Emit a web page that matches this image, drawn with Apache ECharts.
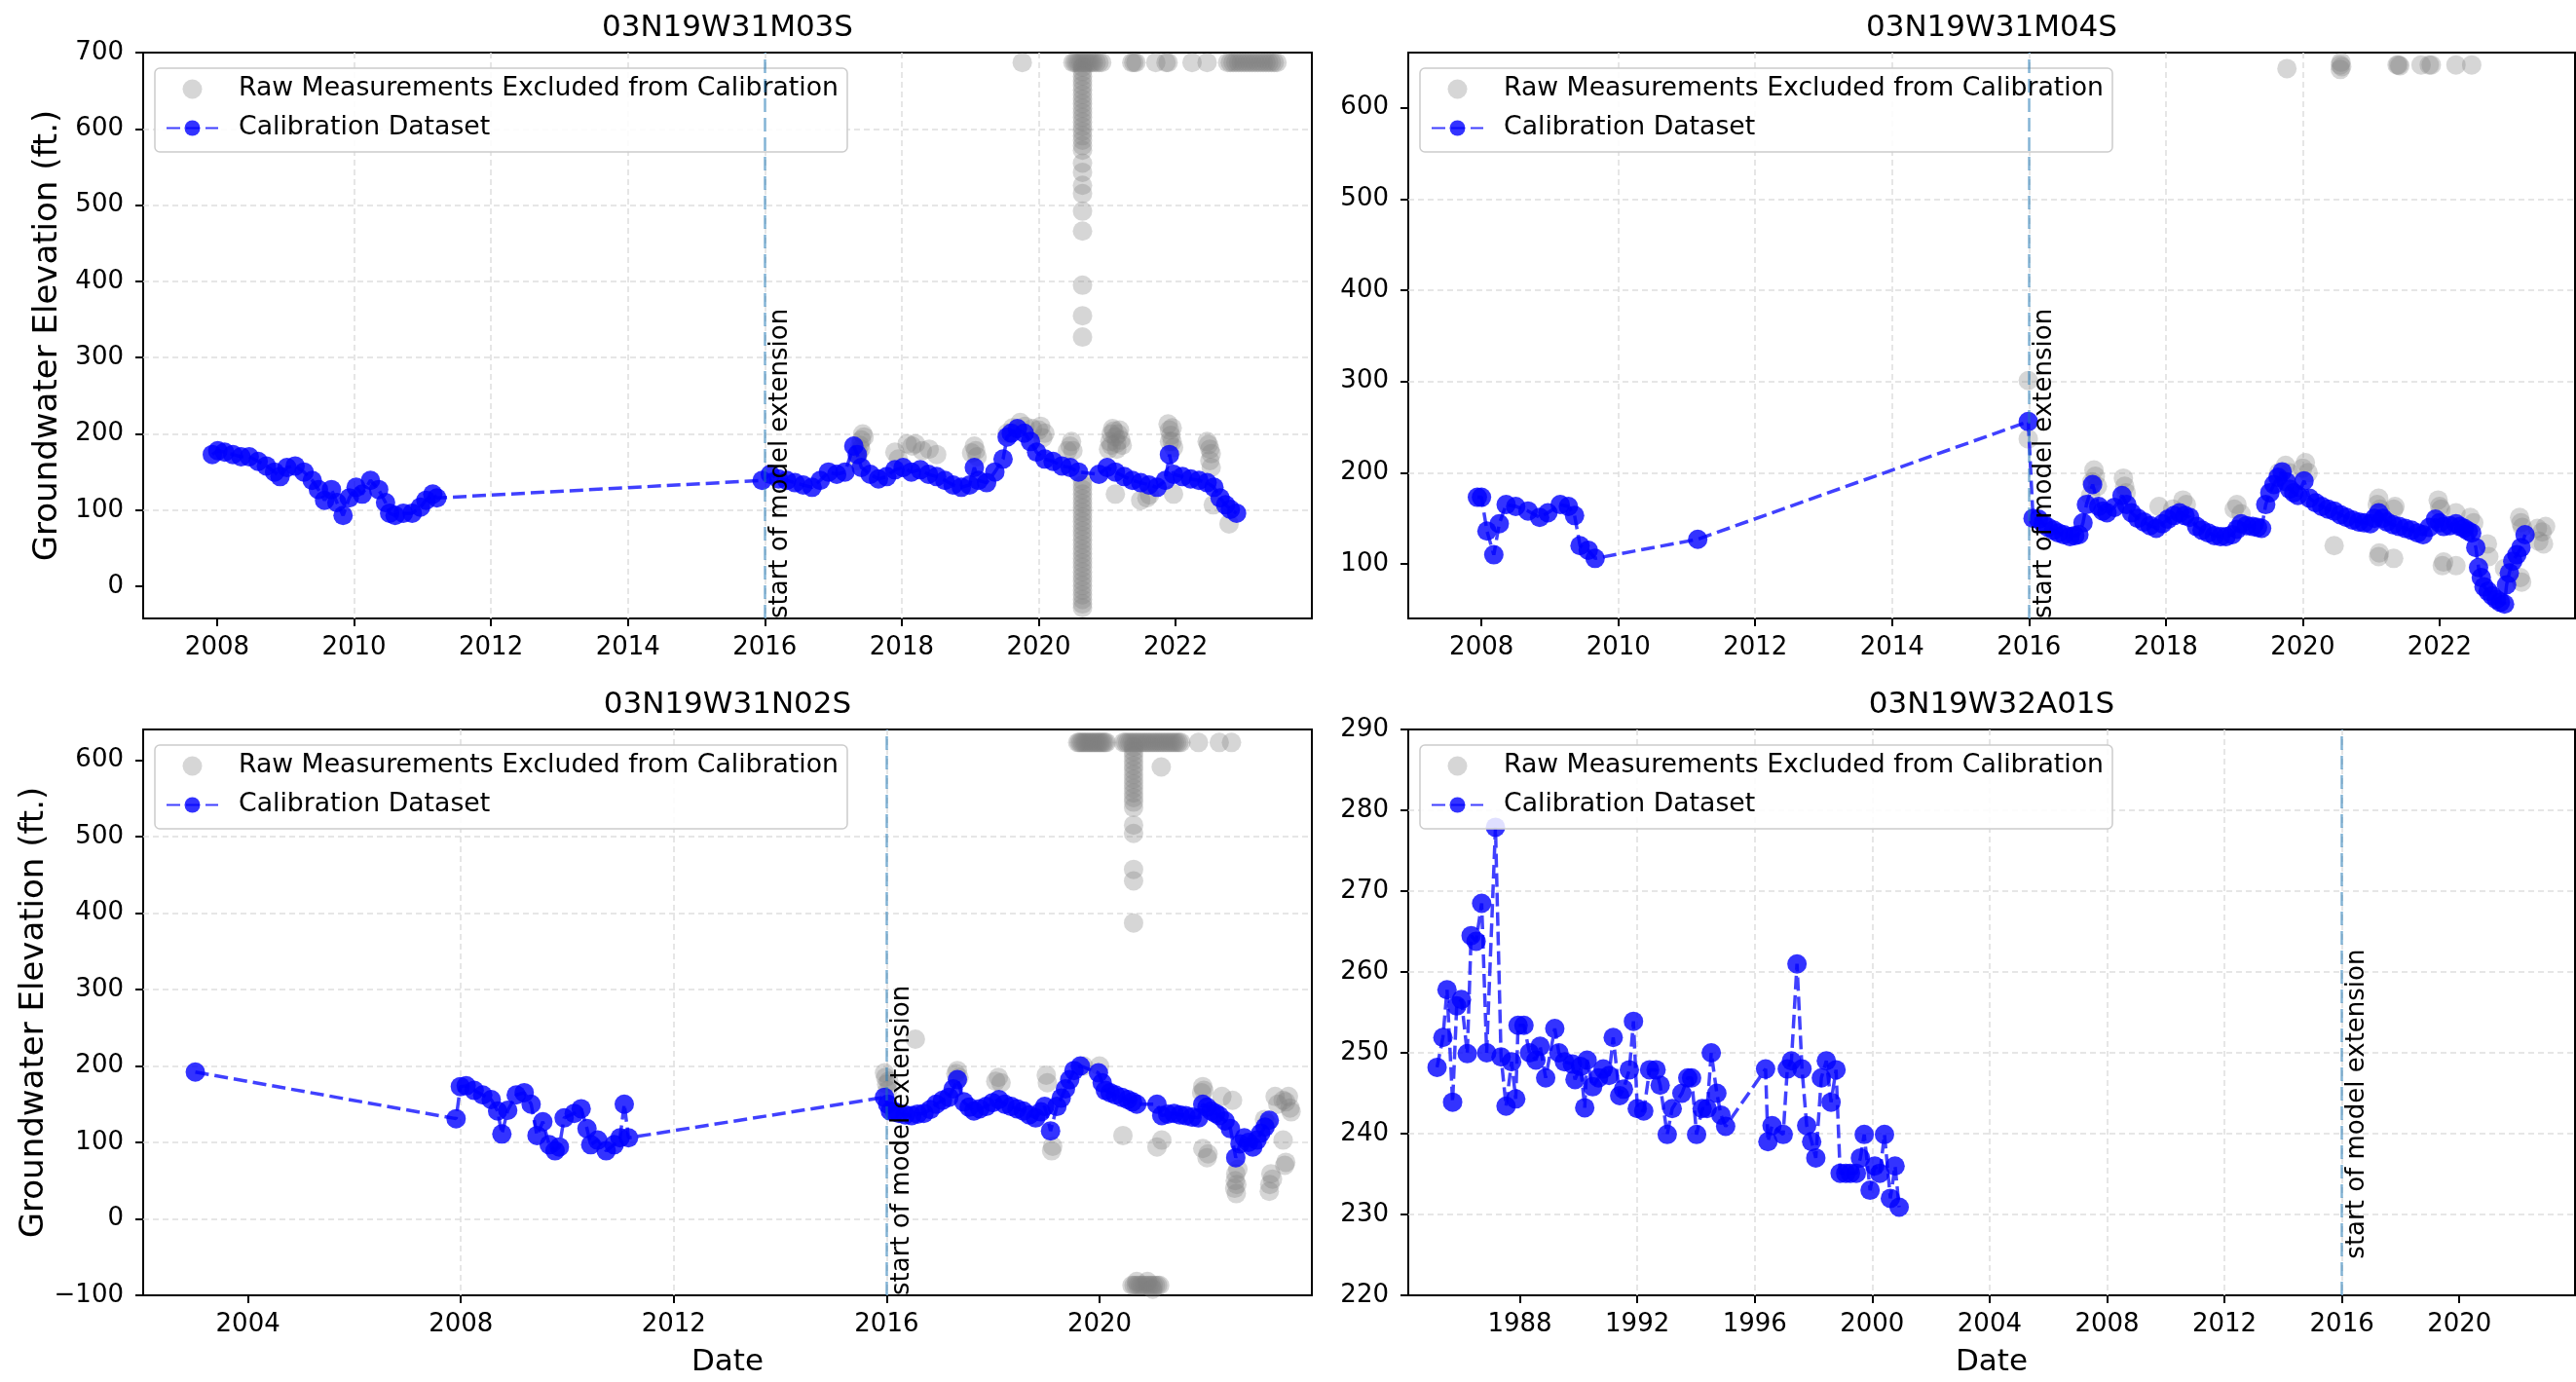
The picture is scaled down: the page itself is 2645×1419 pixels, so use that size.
<!DOCTYPE html>
<html><head><meta charset="utf-8">
<script src="https://cdn.jsdelivr.net/npm/echarts@6/dist/echarts.min.js"></script>
<style>html,body{margin:0;padding:0;background:#fff}#c{width:2645px;height:1419px}</style>
</head><body><div id="c"></div>
<script>
// ---------------- DATA (decimal year, groundwater elevation ft.) ----------------
const seriesNames = ['Raw Measurements Excluded from Calibration', 'Calibration Dataset'];
const modelExtensionStart = 2016;
const extensionLabel = 'start of model extension';

// Panel 1: 03N19W31M03S
const m03sCalib = [
[2007.93,173],[2008.01,178],[2008.11,176],[2008.23,173],[2008.35,170],[2008.47,170],[2008.6,164],[2008.72,158],[2008.84,150],[2008.92,144],[2009.02,156],[2009.14,158],[2009.27,150],[2009.39,139],[2009.48,127],[2009.57,113],[2009.67,127],[2009.75,110],[2009.84,93],[2009.93,116],[2010.03,130],[2010.12,121],[2010.24,139],[2010.36,127],[2010.46,110],[2010.52,96],[2010.6,93],[2010.72,96],[2010.85,96],[2010.97,104],[2011.05,113],[2011.15,121],[2011.21,116],
[2015.96,139],[2016.08,147],[2016.2,141],[2016.32,139],[2016.44,136],[2016.56,133],[2016.69,130],[2016.81,139],[2016.93,150],[2017.05,147],[2017.17,150],[2017.3,184],[2017.35,173],[2017.41,156],[2017.54,147],[2017.66,141],[2017.78,144],[2017.9,153],[2018.02,156],[2018.14,150],[2018.27,153],[2018.39,147],[2018.51,144],[2018.63,139],[2018.75,133],[2018.87,130],[2018.99,133],[2019.06,156],[2019.12,139],[2019.24,136],[2019.36,150],[2019.48,167],[2019.54,196],[2019.6,201],[2019.69,207],[2019.79,201],[2019.88,190],[2019.97,176],[2020.09,167],[2020.21,164],[2020.34,158],[2020.46,156],[2020.58,150],[2020.88,147],[2021.0,156],[2021.12,150],[2021.25,144],[2021.37,139],[2021.49,136],[2021.61,133],[2021.73,130],[2021.85,139],[2021.91,173],[2021.97,147],[2022.1,144],[2022.22,141],[2022.34,139],[2022.46,136],[2022.56,130],[2022.65,116],[2022.73,107],[2022.8,101],[2022.89,96]
];
const m03sExcluded = [
[2019.76,687],[2020.5,687],[2020.53,687],[2020.56,687],[2020.59,687],[2020.62,687],[2020.65,687],[2020.68,687],[2020.71,687],[2020.74,687],[2020.77,687],[2020.8,687],[2020.84,687],[2020.88,687],[2020.92,687],
[2021.36,687],[2021.39,687],[2021.42,687],[2021.71,687],[2021.86,687],[2021.89,687],[2022.24,687],[2022.46,687],
[2022.76,687],[2022.8,687],[2022.84,687],[2022.88,687],[2022.92,687],[2022.96,687],[2023.0,687],[2023.04,687],[2023.08,687],[2023.12,687],[2023.16,687],[2023.2,687],[2023.24,687],[2023.28,687],[2023.32,687],[2023.36,687],[2023.4,687],[2023.44,687],[2023.48,687],
[2020.64,681],[2020.64,675],[2020.64,669],[2020.64,663],[2020.64,657],[2020.64,651],[2020.64,645],[2020.64,639],[2020.64,633],[2020.64,627],[2020.64,621],[2020.64,615],[2020.64,609],[2020.64,603],[2020.64,597],[2020.64,591],[2020.64,585],[2020.64,578],[2020.64,572],[2020.64,555],[2020.64,543],[2020.64,526],[2020.64,515],[2020.64,492],[2020.64,466],[2020.64,395],[2020.64,355],[2020.64,327],
[2020.64,139],[2020.64,133],[2020.64,127],[2020.64,121],[2020.64,115],[2020.64,109],[2020.64,103],[2020.64,97],[2020.64,91],[2020.64,85],[2020.64,79],[2020.64,73],[2020.64,67],[2020.64,61],[2020.64,55],[2020.64,49],[2020.64,43],[2020.64,37],[2020.64,31],[2020.64,25],[2020.64,19],[2020.64,13],[2020.64,7],[2020.64,1],[2020.64,-5],[2020.64,-11],[2020.64,-17],[2020.64,-23],[2020.64,-28],
[2017.35,165],[2017.37,175],[2017.39,185],[2017.41,192],[2017.43,200],[2017.45,196],[2017.4,180],
[2017.9,176],[2017.95,167],[2018.08,187],[2018.15,184],[2018.2,187],[2018.3,178],[2018.4,180],[2018.51,173],
[2019.02,175],[2019.06,184],[2019.08,178],[2019.1,170],
[2019.54,201],[2019.62,208],[2019.73,215],[2019.8,210],[2019.91,207],[2020.0,205],[2020.03,210],[2020.09,201],[2020.06,195],
[2020.42,178],[2020.46,184],[2020.48,190],[2020.5,178],
[2021.02,180],[2021.04,190],[2021.06,200],[2021.08,207],[2021.1,204],[2021.12,196],[2021.14,188],[2021.16,200],[2021.18,205],[2021.2,192],[2021.22,185],[2021.06,185],[2021.14,180],
[2021.12,121],[2021.49,113],[2021.58,116],[2021.62,120],
[2021.89,213],[2021.91,205],[2021.93,198],[2021.95,190],[2021.97,182],[2021.91,190],[2021.95,208],[2021.97,121],
[2022.46,190],[2022.48,186],[2022.5,180],[2022.52,174],[2022.5,165],[2022.52,156],[2022.55,107],[2022.78,82]
];

// Panel 2: 03N19W31M04S
const m04sCalib = [
[2007.94,173],[2008.0,173],[2008.08,136],[2008.18,110],[2008.26,144],[2008.36,165],[2008.5,163],[2008.68,158],[2008.85,151],[2008.97,156],[2009.15,165],[2009.27,163],[2009.36,153],[2009.44,120],[2009.56,115],[2009.66,106],[2011.16,127],[2015.99,256],
[2016.06,150],[2016.14,149],[2016.21,144],[2016.28,140],[2016.36,137],[2016.43,134],[2016.51,132],[2016.6,130],[2016.67,131],[2016.73,132],[2016.79,145],[2016.84,165],[2016.93,187],[2017.02,163],[2017.08,158],[2017.14,156],[2017.25,162],[2017.36,175],[2017.43,165],[2017.5,156],[2017.59,150],[2017.68,146],[2017.77,142],[2017.86,139],[2017.95,144],[2018.03,149],[2018.12,153],[2018.2,156],[2018.28,153],[2018.35,151],[2018.45,141],[2018.53,137],[2018.62,134],[2018.71,131],[2018.8,130],[2018.88,130],[2018.97,132],[2019.04,138],[2019.1,144],[2019.18,142],[2019.27,141],[2019.34,140],[2019.4,139],[2019.46,165],[2019.52,178],[2019.58,187],[2019.64,195],[2019.7,201],[2019.76,190],[2019.81,182],[2019.87,178],[2019.93,175],[2020.02,191],[2020.1,172],[2020.19,167],[2020.28,163],[2020.37,160],[2020.46,158],[2020.55,154],[2020.64,151],[2020.73,148],[2020.82,146],[2020.9,145],[2020.99,144],[2021.05,150],[2021.11,156],[2021.17,150],[2021.23,146],[2021.32,143],[2021.41,141],[2021.5,139],[2021.59,137],[2021.68,134],[2021.76,132],[2021.85,140],[2021.94,149],[2022.0,145],[2022.06,141],[2022.15,142],[2022.24,144],[2022.3,141],[2022.36,139],[2022.42,136],[2022.47,134],[2022.53,118],[2022.57,96],[2022.61,85],[2022.65,75],[2022.71,70],[2022.77,65],[2022.83,61],[2022.89,58],[2022.95,56],[2022.98,77],[2023.02,90],[2023.07,103],[2023.13,110],[2023.19,118],[2023.25,132]
];
const m04sExcluded = [
[2019.77,643],[2020.55,647],[2020.55,642],[2020.56,650],[2020.57,645],[2021.38,647],[2021.4,647],[2021.42,646],[2021.73,647],[2021.85,647],[2021.88,647],[2022.24,647],[2022.47,647],
[2015.99,301],[2015.99,237],
[2016.9,175],[2016.92,190],[2016.95,203],[2016.97,196],[2017.0,185],
[2017.38,194],[2017.4,185],[2017.42,178],
[2017.9,163],[2018.1,160],[2018.25,170],[2018.3,165],
[2019.0,160],[2019.04,165],[2019.1,155],
[2019.65,200],[2019.75,208],[2019.8,200],[2020.0,205],[2020.04,211],[2020.08,200],
[2020.46,120],
[2021.09,165],[2021.11,172],[2021.13,160],[2021.11,108],[2021.12,112],[2021.33,106],[2021.35,163],[2021.33,160],
[2021.98,170],[2022.0,163],[2022.02,160],[2022.04,98],[2022.06,102],[2022.24,98],[2022.24,156],[2022.45,151],[2022.5,145],
[2022.7,122],[2022.72,108],[2022.95,95],
[2023.17,151],[2023.19,145],[2023.21,140],[2023.2,80],[2023.18,85],[2023.43,139],[2023.5,135],[2023.55,141],[2023.45,125],[2023.52,122]
];

// Panel 3: 03N19W31N02S
const n02sCalib = [
[2003.01,192],[2007.91,131],[2007.99,173],[2008.1,174],[2008.25,168],[2008.41,162],[2008.57,156],[2008.69,141],[2008.77,111],[2008.88,142],[2009.04,162],[2009.19,165],[2009.32,150],[2009.43,109],[2009.54,127],[2009.66,97],[2009.77,89],[2009.85,94],[2009.94,132],[2010.13,138],[2010.26,144],[2010.37,118],[2010.44,97],[2010.57,103],[2010.73,89],[2010.88,97],[2010.99,106],[2011.07,150],[2011.15,106],
[2015.96,159],[2016.02,150],[2016.07,141],[2016.15,140],[2016.23,138],[2016.35,136],[2016.47,135],[2016.58,137],[2016.7,138],[2016.82,143],[2016.93,150],[2017.05,155],[2017.17,159],[2017.25,170],[2017.33,182],[2017.45,153],[2017.55,146],[2017.64,141],[2017.75,144],[2017.87,147],[2017.99,152],[2018.11,156],[2018.22,150],[2018.34,147],[2018.45,144],[2018.57,141],[2018.68,136],[2018.8,132],[2018.9,140],[2018.97,147],[2019.08,115],[2019.2,147],[2019.28,158],[2019.36,170],[2019.44,182],[2019.52,194],[2019.64,200],[2019.98,191],[2020.05,178],[2020.11,168],[2020.2,165],[2020.3,162],[2020.42,159],[2020.53,156],[2020.62,153],[2020.7,150],[2021.08,150],[2021.17,135],[2021.28,137],[2021.4,138],[2021.51,136],[2021.62,135],[2021.74,133],[2021.86,132],[2021.94,150],[2022.02,146],[2022.1,141],[2022.18,138],[2022.25,135],[2022.36,128],[2022.46,118],[2022.56,80],[2022.64,98],[2022.72,106],[2022.8,100],[2022.88,94],[2022.96,103],[2023.03,112],[2023.11,120],[2023.19,129]
];
const n02sExcluded = [
[2019.59,623],[2019.62,623],[2019.65,623],[2019.68,623],[2019.71,623],[2019.74,623],[2019.77,623],[2019.8,623],[2019.83,623],[2019.86,623],[2019.89,623],[2019.92,623],[2019.95,623],[2019.98,623],[2020.01,623],[2020.04,623],[2020.07,623],[2020.1,623],[2020.13,623],
[2020.45,623],[2020.49,623],[2020.53,623],[2020.57,623],[2020.61,623],[2020.65,623],[2020.69,623],[2020.73,623],[2020.77,623],[2020.81,623],[2020.85,623],[2020.89,623],[2020.93,623],[2020.97,623],[2021.01,623],[2021.05,623],[2021.09,623],[2021.13,623],[2021.17,623],[2021.21,623],[2021.25,623],[2021.29,623],[2021.33,623],[2021.37,623],[2021.41,623],[2021.45,623],[2021.49,623],[2021.53,623],
[2021.86,623],[2022.25,623],[2022.48,623],
[2020.64,617],[2020.64,611],[2020.64,605],[2020.64,599],[2020.64,593],[2020.64,587],[2020.64,581],[2020.64,575],[2020.64,569],[2020.64,563],[2020.64,557],[2020.64,551],[2020.64,545],[2020.64,538],[2020.64,515],[2020.64,504],[2020.64,457],[2020.64,442],[2020.64,387],
[2021.16,591],
[2020.61,-87],[2020.65,-87],[2020.69,-87],[2020.73,-87],[2020.77,-87],[2020.81,-87],[2020.85,-87],[2020.89,-87],[2020.93,-87],[2020.97,-87],[2021.01,-87],[2021.05,-87],[2021.09,-87],[2021.13,-87],[2020.7,-82],[2020.9,-82],[2021.0,-92],
[2015.96,191],[2015.98,185],[2016.0,176],[2016.02,168],[2016.04,180],[2016.54,235],[2017.3,190],[2017.33,194],[2017.36,185],[2018.05,180],[2018.1,185],[2018.15,178],[2019.0,188],[2019.02,178],[2019.1,89],[2019.12,95],[2019.7,200],[2020.0,200],[2020.44,109],[2021.08,94],[2021.17,103],[2021.92,165],[2021.94,173],[2021.96,168],[2021.94,92],[2022.02,80],[2022.04,85],[2022.3,160],[2022.5,155],
[2022.54,40],[2022.55,50],[2022.56,59],[2022.57,33],[2022.58,45],[2022.6,65],
[2023.1,130],[2023.15,125],[2023.19,36],[2023.2,45],[2023.22,59],[2023.25,52],[2023.3,160],[2023.35,150],[2023.45,155],[2023.5,74],[2023.48,70],[2023.45,103],[2023.5,153],[2023.55,160],[2023.58,145],[2023.6,140]
];

// Panel 4: 03N19W32A01S
const a01sCalib = [
[1985.18,248.2],[1985.38,251.9],[1985.52,257.8],[1985.71,243.9],[1985.85,255.8],[1986.01,256.6],[1986.21,249.9],[1986.34,264.5],[1986.51,263.8],[1986.7,268.5],[1986.87,250.0],[1987.17,277.9],[1987.36,249.5],[1987.53,243.4],[1987.72,248.9],[1987.86,244.3],[1987.94,253.4],[1988.14,253.4],[1988.33,250.0],[1988.55,249.1],[1988.69,250.8],[1988.88,246.9],[1989.19,253.0],[1989.33,250.0],[1989.52,248.9],[1989.79,248.6],[1989.88,246.7],[1990.07,248.3],[1990.21,243.2],[1990.29,249.1],[1990.48,245.8],[1990.68,246.9],[1990.84,248.0],[1991.04,247.2],[1991.18,251.9],[1991.4,244.7],[1991.53,245.5],[1991.73,247.9],[1991.87,253.9],[1992.0,243.1],[1992.22,242.8],[1992.42,247.9],[1992.64,247.9],[1992.78,246.0],[1993.02,239.9],[1993.19,243.1],[1993.52,245.0],[1993.72,246.9],[1993.85,246.9],[1994.02,239.9],[1994.21,243.1],[1994.38,243.1],[1994.52,250.0],[1994.71,245.0],[1994.85,242.3],[1995.01,240.9],[1996.37,248.0],[1996.45,239.0],[1996.59,241.0],[1996.97,239.9],[1997.11,248.0],[1997.25,249.0],[1997.44,261.0],[1997.61,248.0],[1997.77,241.0],[1997.94,239.0],[1998.08,237.0],[1998.27,246.9],[1998.44,249.0],[1998.6,243.9],[1998.77,247.9],[1998.91,235.1],[1999.1,235.1],[1999.26,235.1],[1999.46,235.1],[1999.6,237.0],[1999.73,239.9],[1999.93,233.0],[2000.09,236.0],[2000.26,235.1],[2000.42,239.9],[2000.62,232.0],[2000.78,236.0],[2000.92,230.9]
];
const a01sExcluded = [];

// Tick labels
const xTicks1 = [2008, 2010, 2012, 2014, 2016, 2018, 2020, 2022];
const yTicks1 = [0, 100, 200, 300, 400, 500, 600, 700];
const xTicks2 = [2008, 2010, 2012, 2014, 2016, 2018, 2020, 2022];
const yTicks2 = [100, 200, 300, 400, 500, 600];
const xTicks3 = [2004, 2008, 2012, 2016, 2020];
const yTicks3 = [-100, 0, 100, 200, 300, 400, 500, 600];
const xTicks4 = [1988, 1992, 1996, 2000, 2004, 2008, 2012, 2016, 2020];
const yTicks4 = [220, 230, 240, 250, 260, 270, 280, 290];
const titles = ['03N19W31M03S', '03N19W31M04S', '03N19W31N02S', '03N19W32A01S'];

// ---------------- LAYOUT / CONFIG ----------------
const panels = [
  {title: titles[0], calib: m03sCalib, excl: m03sExcluded, x: [2006.92, 2023.99], y: [-42, 700], xt: xTicks1, yt: yTicks1, xs: 2, ys: 100, textY: -42, g: [147, 54, 1200, 581], yName: true, xName: false},
  {title: titles[1], calib: m04sCalib, excl: m04sExcluded, x: [2006.93, 2023.98], y: [40.2, 660.5], xt: xTicks2, yt: yTicks2, xs: 2, ys: 100, textY: 40.2, g: [1446, 54, 1198, 581], yName: false, xName: false},
  {title: titles[2], calib: n02sCalib, excl: n02sExcluded, x: [2002.03, 2023.99], y: [-100, 640], xt: xTicks3, yt: yTicks3, xs: 4, ys: 100, textY: -100, g: [147, 749, 1200, 581], yName: true, xName: true},
  {title: titles[3], calib: a01sCalib, excl: a01sExcluded, x: [1984.2, 2023.94], y: [220, 290], xt: xTicks4, yt: yTicks4, xs: 4, ys: 10, textY: 224.5, g: [1446, 749, 1198, 581], yName: false, xName: true}
];
const FONT = 'DejaVu Sans';
const option = {backgroundColor: '#fff', animation: false, title: [], legend: [], grid: [], xAxis: [], yAxis: [], series: []};
const minus = v => (v < 0 ? '\u2212' + Math.abs(v) : String(v));
const splitLineStyle = {show: true, showMinLine: false, showMaxLine: false, lineStyle: {color: '#dedede', type: [6, 4], width: 1.5}};

panels.forEach((p, i) => {
  const [gl, gt, gw, gh] = p.g;
  option.grid.push({left: gl, top: gt, width: gw, height: gh, show: true, borderColor: '#000', borderWidth: 2, backgroundColor: 'transparent'});
  option.title.push({text: p.title, left: gl + gw / 2, top: gt - 41, textAlign: 'center', padding: 0,
    textStyle: {fontFamily: FONT, fontSize: 31, fontWeight: 'normal', color: '#000'}});
  option.legend.push({left: gl + 12, top: gt + 16, orient: 'vertical', data: seriesNames,
    itemWidth: 53, itemHeight: 20, itemGap: 13, padding: [8, 9, 11, 11],
    backgroundColor: 'rgba(255,255,255,0.85)', borderColor: '#cccccc', borderWidth: 1.5, borderRadius: 5,
    textStyle: {fontFamily: FONT, fontSize: 26.7, color: '#000', padding: [0, 0, 0, 16]}});
  option.xAxis.push({type: 'value', gridIndex: i, min: p.x[0], max: p.x[1], minInterval: p.xs, maxInterval: p.xs,
    axisLine: {show: false, onZero: false},
    axisTick: {show: true, inside: false, length: 8, lineStyle: {color: '#000', width: 2}, customValues: p.xt},
    axisLabel: {customValues: p.xt, formatter: v => String(Math.round(v)), fontFamily: FONT, fontSize: 26, color: '#000', margin: 17},
    splitLine: splitLineStyle,
    name: p.xName ? 'Date' : '', nameLocation: 'middle', nameGap: 53,
    nameTextStyle: {fontFamily: FONT, fontSize: 31, color: '#000'}});
  option.yAxis.push({type: 'value', gridIndex: i, min: p.y[0], max: p.y[1], minInterval: p.ys, maxInterval: p.ys,
    axisLine: {show: false, onZero: false},
    axisTick: {show: true, inside: false, length: 8, lineStyle: {color: '#000', width: 2}, customValues: p.yt},
    axisLabel: {customValues: p.yt, formatter: minus, fontFamily: FONT, fontSize: 26, color: '#000', margin: 20},
    splitLine: splitLineStyle,
    name: p.yName ? 'Groundwater Elevation (ft.)' : '', nameLocation: 'middle', nameGap: 81,
    nameTextStyle: {fontFamily: FONT, fontSize: 34, color: '#000'}});
  option.series.push({type: 'scatter', name: seriesNames[0], xAxisIndex: i, yAxisIndex: i, data: p.excl,
    symbol: 'circle', symbolSize: 20, itemStyle: {color: 'rgba(128,128,128,0.4)'}, z: 2, silent: true});
  option.series.push({type: 'line', name: seriesNames[1], xAxisIndex: i, yAxisIndex: i, data: p.calib,
    symbol: 'circle', symbolSize: 20, showSymbol: true, showAllSymbol: true,
    itemStyle: {color: 'rgba(0,0,255,0.8)', borderWidth: 0},
    lineStyle: {color: 'rgba(0,0,255,0.75)', width: 3.5, type: [14, 6]}, z: 3, silent: true,
    markLine: {silent: true, symbol: ['none', 'none'], label: {show: false}, animation: false,
      lineStyle: {color: 'rgba(31,119,180,0.55)', type: [14, 6], width: 2.5}, data: [{xAxis: modelExtensionStart}]}});
  option.series.push({type: 'custom', xAxisIndex: i, yAxisIndex: i, data: [[modelExtensionStart, p.textY]], z: 5, silent: true, clip: false,
    renderItem: (params, api) => {
      const pt = api.coord([api.value(0), api.value(1)]);
      return {type: 'text', x: pt[0] + 3, y: pt[1], rotation: Math.PI / 2,
        style: {text: extensionLabel, fill: '#000', font: '26px "DejaVu Sans"', align: 'left', verticalAlign: 'top'}};
    }});
});

const chart = echarts.init(document.getElementById('c'), null, {renderer: 'canvas'});
chart.setOption(option);
</script>
</body></html>
